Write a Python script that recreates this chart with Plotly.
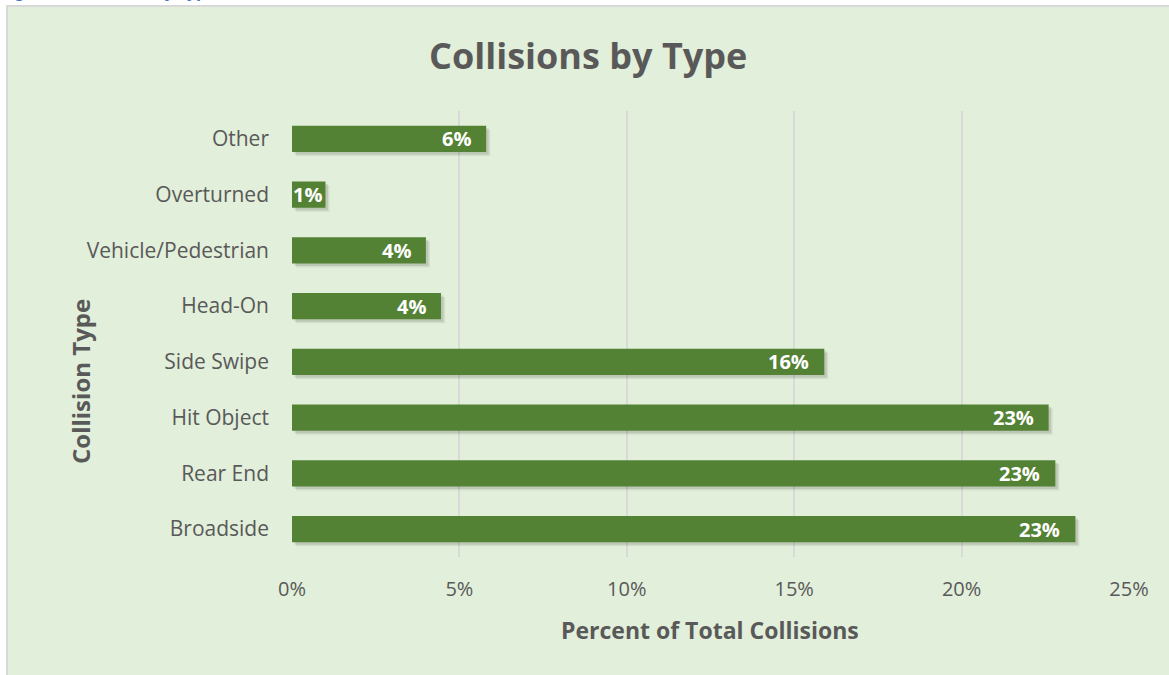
import plotly.graph_objects as go

categories = ["Broadside", "Rear End", "Hit Object", "Side Swipe", "Head-On",
              "Vehicle/Pedestrian", "Overturned", "Other"]
values = [0.234, 0.228, 0.226, 0.159, 0.0445, 0.040, 0.010, 0.058]
tick_vals = [0, 0.05, 0.10, 0.15, 0.20, 0.25]
tick_text = ["0%", "5%", "10%", "15%", "20%", "25%"]

W, H = 1169, 675
L, R, T, B = 292, 40, 111, 118
PW, PH = W - L - R, H - T - B

def px_x(p):
    return (p - L) / PW

def px_y(p):
    return (H - B - p) / PH

FONT = "Open Sans"
GRAY = "#595959"
GREEN = "#548235"
BAR_W = 0.47
X_PER_PX = 0.25 / PW
CAT_PER_PX = len(categories) / PH

fig = go.Figure()
# soft drop shadow (two layers)
for k, alpha in [(4, 0.07), (2.5, 0.10)]:
    fig.add_trace(go.Bar(
        x=values, y=categories, orientation="h",
        base=k * X_PER_PX,
        marker=dict(color=f"rgba(0,0,0,{alpha})", line=dict(width=0)),
        width=BAR_W, offset=-BAR_W / 2 - k * CAT_PER_PX,
        hoverinfo="skip",
    ))
fig.add_trace(go.Bar(
    x=values, y=categories, orientation="h",
    marker=dict(color=GREEN, line=dict(width=0)),
    width=BAR_W, offset=-BAR_W / 2, hoverinfo="skip",
))

annotations = []
for c, v in zip(categories, values):
    annotations.append(dict(
        x=v, y=c, xref="x", yref="y", text=f"<b>{round(v*100):.0f}%</b>",
        showarrow=False, xanchor="right", yanchor="middle",
        xshift=-13 if v > 0.03 else -1,
        font=dict(family=FONT, size=20, color="white"),
    ))

annotations += [
    dict(x=px_x(588), y=px_y(56), xref="paper", yref="paper",
         text="<b>Collisions by Type</b>", showarrow=False,
         xanchor="center", yanchor="middle",
         font=dict(family=FONT, size=36, color=GRAY)),
    dict(x=px_x(710), y=px_y(630), xref="paper", yref="paper",
         text="<b>Percent of Total Collisions</b>", showarrow=False,
         xanchor="center", yanchor="middle",
         font=dict(family=FONT, size=23, color=GRAY)),
    dict(x=px_x(80), y=px_y(381), xref="paper", yref="paper",
         text="<b>Collision Type</b>", showarrow=False, textangle=-90,
         xanchor="center", yanchor="middle",
         font=dict(family=FONT, size=24, color=GRAY)),
    dict(x=px_x(0), y=px_y(4), xref="paper", yref="paper",
         text="<b><i>Figure 7: Collisions by Type</i></b>", showarrow=False,
         xanchor="left", yanchor="bottom",
         font=dict(family=FONT, size=17, color="#4472C4")),
]

fig.update_layout(
    width=W, height=H,
    margin=dict(l=L, r=R, t=T, b=B, pad=0),
    paper_bgcolor="white", plot_bgcolor="rgba(0,0,0,0)",
    showlegend=False, barmode="overlay",
    annotations=annotations,
    shapes=[dict(type="rect", xref="paper", yref="paper", layer="below",
                 x0=px_x(7), x1=px_x(1175), y0=px_y(6), y1=px_y(680),
                 fillcolor="#E2EFDA", line=dict(color="#D9D9D9", width=2))],
    xaxis=dict(range=[0, 0.25], tickvals=tick_vals, ticktext=tick_text,
               showgrid=True, gridcolor="#D9D9D9", gridwidth=1.5,
               zeroline=False, showline=False, ticks="",
               ticklabelstandoff=18,
               tickfont=dict(family=FONT, size=20, color=GRAY), fixedrange=True),
    yaxis=dict(categoryorder="array", categoryarray=categories,
               range=[-0.5, len(categories) - 0.5],
               showgrid=False, zeroline=False, showline=False, ticks="",
               ticklabelstandoff=22,
               tickfont=dict(family=FONT, size=21, color=GRAY), fixedrange=True),
)

fig.write_html("out.html")
